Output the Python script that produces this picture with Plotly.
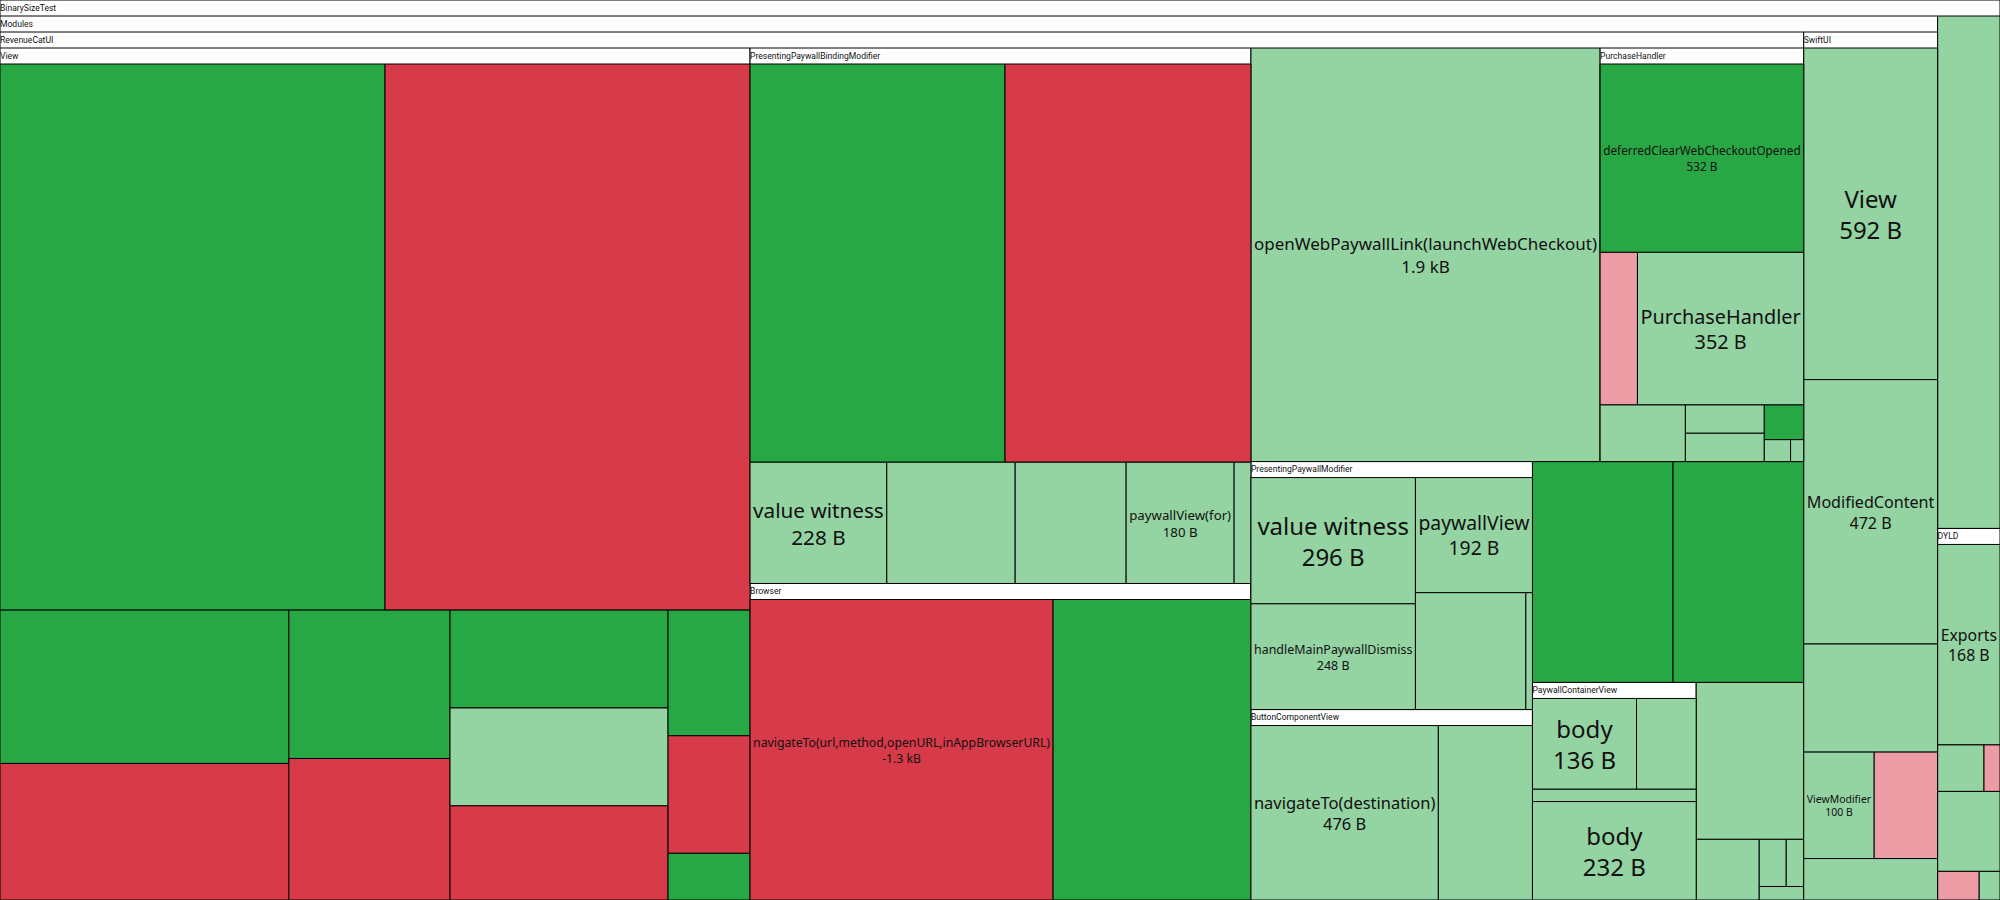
import plotly.graph_objects as go

# ---- data: binary size diff tree (bytes; negative = shrink/removed) ----
node_ids = [
    "root", "mod", "rc",
    "rc/view", "rc/view/1", "rc/view/2", "rc/view/3", "rc/view/4", "rc/view/5", "rc/view/6",
    "rc/view/7", "rc/view/8", "rc/view/9", "rc/view/10", "rc/view/11", "rc/view/12",
    "rc/ppbm", "rc/ppbm/1", "rc/ppbm/2", "rc/ppbm/vw", "rc/ppbm/4", "rc/ppbm/5", "rc/ppbm/pv", "rc/ppbm/7",
    "rc/browser", "rc/browser/nav", "rc/browser/2",
    "rc/openweb",
    "rc/ph", "rc/ph/deferred", "rc/ph/3", "rc/ph/ph", "rc/ph/4", "rc/ph/5", "rc/ph/6", "rc/ph/7", "rc/ph/8", "rc/ph/9",
    "rc/ppm", "rc/ppm/vw", "rc/ppm/dismiss", "rc/ppm/pv", "rc/ppm/4", "rc/ppm/5",
    "rc/bcv", "rc/bcv/nav", "rc/bcv/2",
    "rc/a1", "rc/a2",
    "rc/pcv", "rc/pcv/body1", "rc/pcv/2", "rc/pcv/3", "rc/pcv/body2",
    "rc/i1", "rc/i2", "rc/i3", "rc/i4", "rc/i5",
    "sw", "sw/view", "sw/mc", "sw/3", "sw/vm", "sw/5", "sw/6",
    "other",
    "dyld", "dyld/exports", "dyld/2", "dyld/3", "dyld/4", "dyld/5", "dyld/6",
]
node_labels = [
    "BinarySizeTest", "Modules", "RevenueCatUI",
    "View", "symbol", "symbol", "symbol", "symbol", "symbol", "symbol",
    "symbol", "symbol", "symbol", "symbol", "symbol", "symbol",
    "PresentingPaywallBindingModifier", "symbol", "symbol", "value witness", "symbol", "symbol", "paywallView(for)", "symbol",
    "Browser", "navigateTo(url,method,openURL,inAppBrowserURL)", "symbol",
    "openWebPaywallLink(launchWebCheckout)",
    "PurchaseHandler", "deferredClearWebCheckoutOpened", "symbol", "PurchaseHandler", "symbol", "symbol", "symbol", "symbol", "symbol", "symbol",
    "PresentingPaywallModifier", "value witness", "handleMainPaywallDismiss", "paywallView", "symbol", "symbol",
    "ButtonComponentView", "navigateTo(destination)", "symbol",
    "symbol", "symbol",
    "PaywallContainerView", "body", "symbol", "symbol", "body",
    "symbol", "symbol", "symbol", "symbol", "symbol",
    "SwiftUI", "View", "ModifiedContent", "symbol", "ViewModifier", "symbol", "symbol",
    "symbol",
    "DYLD", "Exports", "symbol", "symbol", "symbol", "symbol", "symbol",
]
node_parents = [
    "", "root", "mod",
    "rc", "rc/view", "rc/view", "rc/view", "rc/view", "rc/view", "rc/view",
    "rc/view", "rc/view", "rc/view", "rc/view", "rc/view", "rc/view",
    "rc", "rc/ppbm", "rc/ppbm", "rc/ppbm", "rc/ppbm", "rc/ppbm", "rc/ppbm", "rc/ppbm",
    "rc", "rc/browser", "rc/browser",
    "rc",
    "rc", "rc/ph", "rc/ph", "rc/ph", "rc/ph", "rc/ph", "rc/ph", "rc/ph", "rc/ph", "rc/ph",
    "rc", "rc/ppm", "rc/ppm", "rc/ppm", "rc/ppm", "rc/ppm",
    "rc", "rc/bcv", "rc/bcv",
    "rc", "rc",
    "rc", "rc/pcv", "rc/pcv", "rc/pcv", "rc/pcv",
    "rc", "rc", "rc", "rc", "rc",
    "mod", "sw", "sw", "sw", "sw", "sw", "sw",
    "root",
    "root", "dyld", "dyld", "dyld", "dyld", "dyld", "dyld",
]
size_change = [
    0, 0, 0,
    0, 2858, -2709, 602, -536, 325, -310,
    290, 290, -279, 140, -131, 52,
    0, 1396, -1346, 228, 214, 185, 180, 28,
    0, -1279, 835,
    1926,
    0, 532, -79, 352, 67, 31, 31, 19, 8, 4,
    0, 296, 248, 192, 184, 11,
    0, 476, 239,
    414, 385,
    0, 136, 78, 29, 232,
    225, 51, 17, 11, 8,
    0, 592, 472, 193, 100, -90, 74,
    411,
    0, 168, 29, -10, 67, -16, 8,
]
status = [
    "group", "group", "group",
    "group", "added", "removed", "added", "removed", "added", "removed",
    "added", "increased", "removed", "added", "removed", "added",
    "group", "added", "removed", "increased", "increased", "increased", "increased", "increased",
    "group", "removed", "added",
    "increased",
    "group", "added", "decreased", "increased", "increased", "increased", "increased", "added", "increased", "increased",
    "group", "increased", "increased", "increased", "increased", "increased",
    "group", "increased", "increased",
    "added", "added",
    "group", "increased", "increased", "increased", "increased",
    "increased", "increased", "increased", "increased", "increased",
    "group", "increased", "increased", "increased", "increased", "decreased", "increased",
    "increased",
    "group", "increased", "increased", "decreased", "increased", "decreased", "increased",
]
labelled = {
    "rc/ppbm/vw", "rc/ppbm/pv", "rc/browser/nav", "rc/openweb", "rc/ph/deferred", "rc/ph/ph",
    "rc/ppm/vw", "rc/ppm/dismiss", "rc/ppm/pv", "rc/bcv/nav", "rc/pcv/body1", "rc/pcv/body2",
    "sw/view", "sw/mc", "sw/vm", "dyld/exports",
}

status_colors = {
    "group": "#ffffff",
    "added": "#28a745",
    "increased": "#94d3a2",
    "removed": "#d73a49",
    "decreased": "#eb9ca5",
}

LEAF_FONT = "Noto Sans, Open Sans, sans-serif"
HEADER_FONT = "Roboto, Liberation Sans, sans-serif"
INK = "#111111"
CLEAR = "rgba(0,0,0,0)"


def fmt_size(v):
    if abs(v) >= 1000:
        return f"{v / 1000:.1f} kB"
    return f"{v} B"


header_texts, header_sizes = [], []
leaf_texts, leaf_ink, leaf_sizes = [], [], []
for i, nid in enumerate(node_ids):
    if status[i] == "group":
        header_texts.append(node_labels[i])
        header_sizes.append(12)
        leaf_texts.append("\u200b")
        leaf_ink.append(CLEAR)
        leaf_sizes.append(1)
    elif nid in labelled:
        header_texts.append("")
        header_sizes.append(1)
        leaf_texts.append(f"{node_labels[i]}<br>{fmt_size(size_change[i])}")
        leaf_ink.append(INK)
        leaf_sizes.append(24)
    else:
        header_texts.append("")
        header_sizes.append(1)
        leaf_texts.append("")
        leaf_ink.append(CLEAR)
        leaf_sizes.append(1)

common = dict(
    ids=node_ids,
    labels=node_labels,
    parents=node_parents,
    values=[abs(v) for v in size_change],
    branchvalues="remainder",
    sort=False,
    texttemplate="%{text}",
    tiling=dict(packing="squarify", squarifyratio=1.56, pad=0),
    pathbar=dict(visible=False),
    hoverinfo="skip",
)

# Tiles + left-aligned group headers
tiles = go.Treemap(
    **common,
    text=header_texts,
    textposition="top left",
    textfont=dict(family=HEADER_FONT, size=header_sizes, color=INK),
    marker=dict(
        colors=[status_colors[s] for s in status],
        line=dict(color="#000000", width=1),
        pad=dict(t=16, l=0, r=0, b=0),
    ),
    root=dict(color="#ffffff"),
)

# Same layout again, transparent, carrying the centred leaf labels
leaf_labels = go.Treemap(
    **common,
    text=leaf_texts,
    textposition="middle center",
    textfont=dict(family=LEAF_FONT, size=leaf_sizes, color=leaf_ink),
    marker=dict(
        colors=[CLEAR] * len(node_ids),
        line=dict(color=CLEAR, width=0),
        pad=dict(t=16, l=0, r=0, b=0),
    ),
    root=dict(color=CLEAR),
)

fig = go.Figure([tiles, leaf_labels])

fig.update_layout(
    width=2000,
    height=900,
    margin=dict(l=0, r=0, t=0, b=0),
    paper_bgcolor="#ffffff",
    hovermode=False,
)

fig.write_html("out.html", config={"displayModeBar": False, "staticPlot": True})
